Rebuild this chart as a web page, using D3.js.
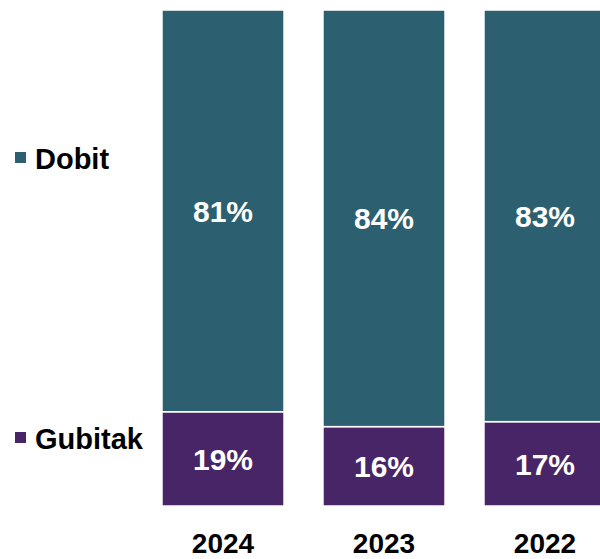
<!DOCTYPE html>
<html>
<head>
<meta charset="utf-8">
<script src="https://d3js.org/d3.v7.min.js"></script>
<style>
  html, body { margin: 0; padding: 0; background: #fff; }
  svg { display: block; font-family: "Liberation Sans", Arial, sans-serif; }
</style>
</head>
<body>
<svg width="600" height="559"></svg>
<script>
// Data
const years = ["2024", "2023", "2022"];
const series = ["Gubitak", "Dobit"];
const gubitak = [19, 16, 17];
const dobit = [81, 84, 83];
const colors = { Dobit: "#2c6070", Gubitak: "#472566" };

const svg = d3.select("svg");

const rows = years.map((y, i) => ({ year: y, Gubitak: gubitak[i], Dobit: dobit[i] }));
const stacked = d3.stack().keys(series)(rows);

const x = d3.scaleBand()
  .domain(years)
  .range([142.5, 625.5])
  .paddingInner(0.242)
  .paddingOuter(0.121);

const y = d3.scaleLinear().domain([0, 100]).range([506, 10]);

const layer = svg.selectAll("g.layer")
  .data(stacked)
  .enter().append("g")
  .attr("class", "layer")
  .attr("fill", d => colors[d.key]);

layer.selectAll("rect")
  .data(d => d)
  .enter().append("rect")
  .attr("x", d => x(d.data.year))
  .attr("y", d => y(d[1]))
  .attr("width", x.bandwidth())
  .attr("height", d => y(d[0]) - y(d[1]))
  .attr("stroke", "#fff")
  .attr("stroke-width", 1.5);

// value labels
layer.selectAll("text")
  .data(d => d)
  .enter().append("text")
  .attr("x", d => x(d.data.year) + x.bandwidth() / 2)
  .attr("y", d => (y(d[0]) + y(d[1])) / 2 + 11)
  .attr("text-anchor", "middle")
  .attr("fill", "#fff")
  .attr("font-weight", "bold")
  .attr("font-size", "30px")
  .text(d => (d[1] - d[0]) + "%");

// year axis labels
svg.selectAll("text.year")
  .data(years)
  .enter().append("text")
  .attr("class", "year")
  .attr("x", d => x(d) + x.bandwidth() / 2)
  .attr("y", 553)
  .attr("text-anchor", "middle")
  .attr("font-weight", "bold")
  .attr("font-size", "28px")
  .attr("fill", "#000")
  .text(d => d);

// legend
const legendPos = { Dobit: 169, Gubitak: 449 };
const legend = svg.selectAll("g.legend")
  .data(["Dobit", "Gubitak"])
  .enter().append("g")
  .attr("class", "legend")
  .attr("transform", d => `translate(0,${legendPos[d]})`);

legend.append("rect")
  .attr("x", 15)
  .attr("y", -17)
  .attr("width", 11)
  .attr("height", 11)
  .attr("fill", d => colors[d]);

legend.append("text")
  .attr("x", 35)
  .attr("y", 0)
  .attr("font-weight", "bold")
  .attr("font-size", "29px")
  .attr("fill", "#000")
  .text(d => d);
</script>
</body>
</html>
